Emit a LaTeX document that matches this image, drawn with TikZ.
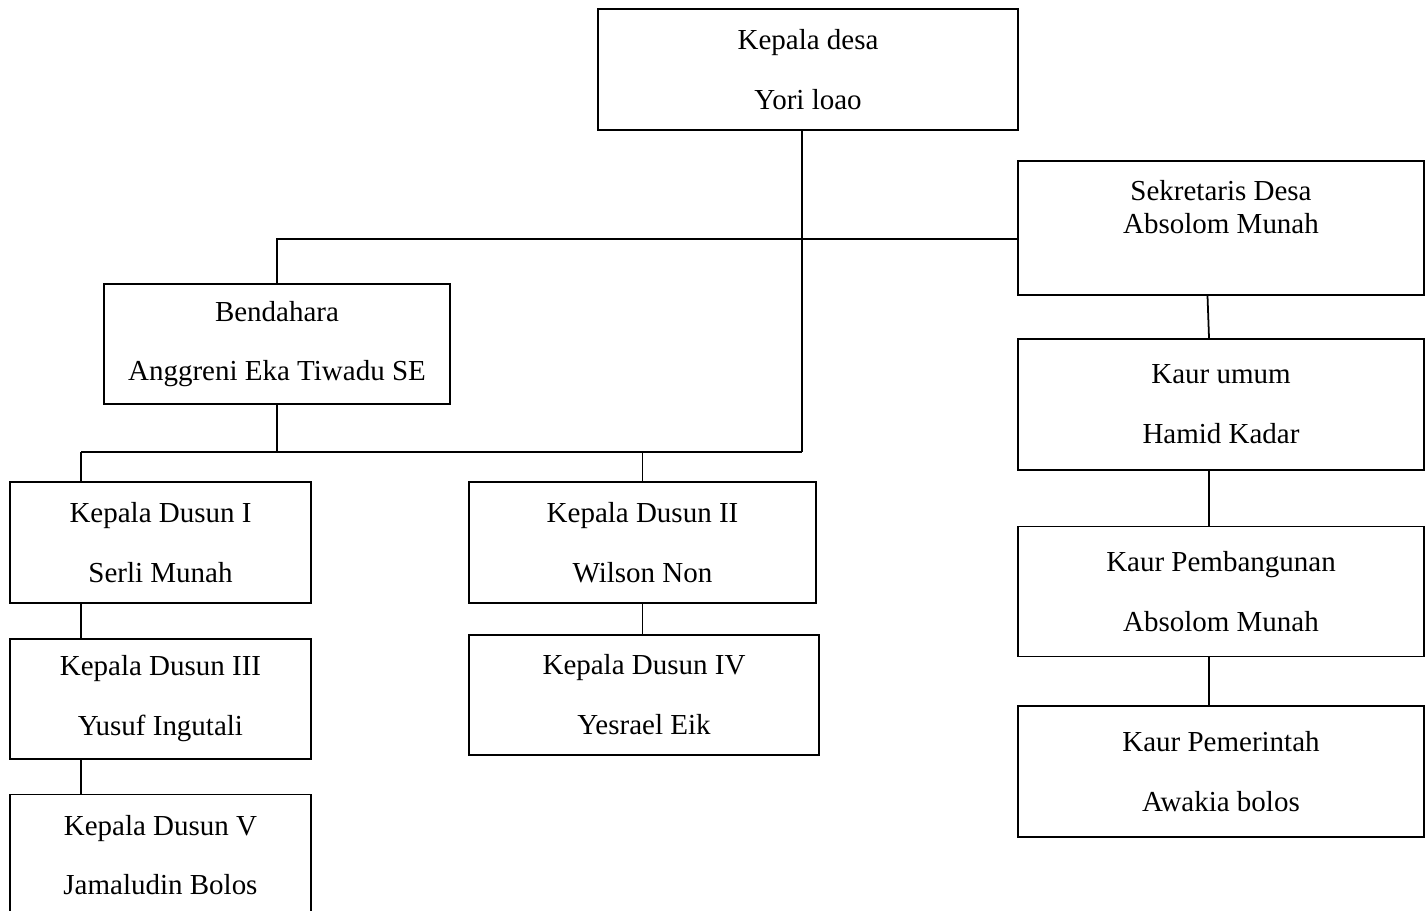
\documentclass[tikz,border=0pt]{standalone}
\usepackage{fontspec}
\setmainfont{Liberation Serif}
\usetikzlibrary{positioning}

\begin{document}
\begin{tikzpicture}[x=0.02cm, y=-0.02cm, line width=1pt,
  every node/.style={draw, line width=1pt, align=center, text centered, font=\fontsize{16.5}{34}\selectfont},
  kaur/.style={minimum width=8.12cm, minimum height=2.62cm},
  dusun/.style={minimum width=6.02cm, minimum height=2.42cm}]

\clip (0,0) rectangle (1426,911);

  % Nodes
  \node (kades) [minimum width=8.4cm, minimum height=2.42cm] at (808,69.5) {Kepala desa\\Yori loao};
  \node (sekdes) [kaur, minimum height=2.68cm, font=\fontsize{16.5}{19}\selectfont] at (1221,228) {Sekretaris Desa\\Absolom Munah\\[5pt]\mbox{}};
  \node (umum) [kaur, below=0.84cm of sekdes] {Kaur umum\\Hamid Kadar};
  \node (bangun) [kaur, below=1.1cm of umum, minimum height=2.6cm] {Kaur Pembangunan\\Absolom Munah};
  \node (perintah) [kaur, below=0.96cm of bangun] {Kaur Pemerintah\\Awakia bolos};
  \node (bendahara) [minimum width=6.92cm, minimum height=2.4cm] at (277,344) {Bendahara\\Anggreni Eka Tiwadu SE};

  % Dusun
  \node (dusun1) [dusun] at (160.5,542.5) {Kepala Dusun I\\Serli Munah};
  \node (dusun3) [dusun, below=0.68cm of dusun1, minimum height=2.4cm] {Kepala Dusun III\\Yusuf Ingutali};
  \node (dusun5) [dusun, below=0.68cm of dusun3] {Kepala Dusun V\\Jamaludin Bolos};
  \node (dusun2) [dusun, minimum width=6.94cm] at (642.5,542.5) {Kepala Dusun II\\Wilson Non};
  \node (dusun4) [dusun, minimum width=7cm, minimum height=2.4cm, below=0.6cm of dusun2, xshift=0.03cm] {Kepala Dusun IV\\Yesrael Eik};

  \coordinate (trunk) at (802,452);
  \coordinate (leftend) at (81,452);

  % Lines
  \draw (trunk |- kades.south) -- (trunk);
  \draw (bendahara.north) |- ([yshift=-0.22cm]sekdes.west);
  \draw ([xshift=-0.27cm]sekdes.south) -- ([xshift=-0.24cm]umum.north);
  \draw ([xshift=-0.24cm]umum.south) -- ([xshift=-0.24cm]bangun.north);
  \draw ([xshift=-0.24cm]bangun.south) -- ([xshift=-0.24cm]perintah.north);

  \draw (bendahara.south) -- (bendahara.south |- trunk);
  \draw (leftend) -- (trunk);
  \draw (leftend) -- (leftend |- dusun1.north);
  \draw (dusun2.north |- trunk) -- (dusun2.north);
  \draw (leftend |- dusun1.south) -- (leftend |- dusun3.north);
  \draw (leftend |- dusun3.south) -- (leftend |- dusun5.north);
  \draw (dusun2.south) -- (dusun2.south |- dusun4.north);

\end{tikzpicture}
\end{document}
